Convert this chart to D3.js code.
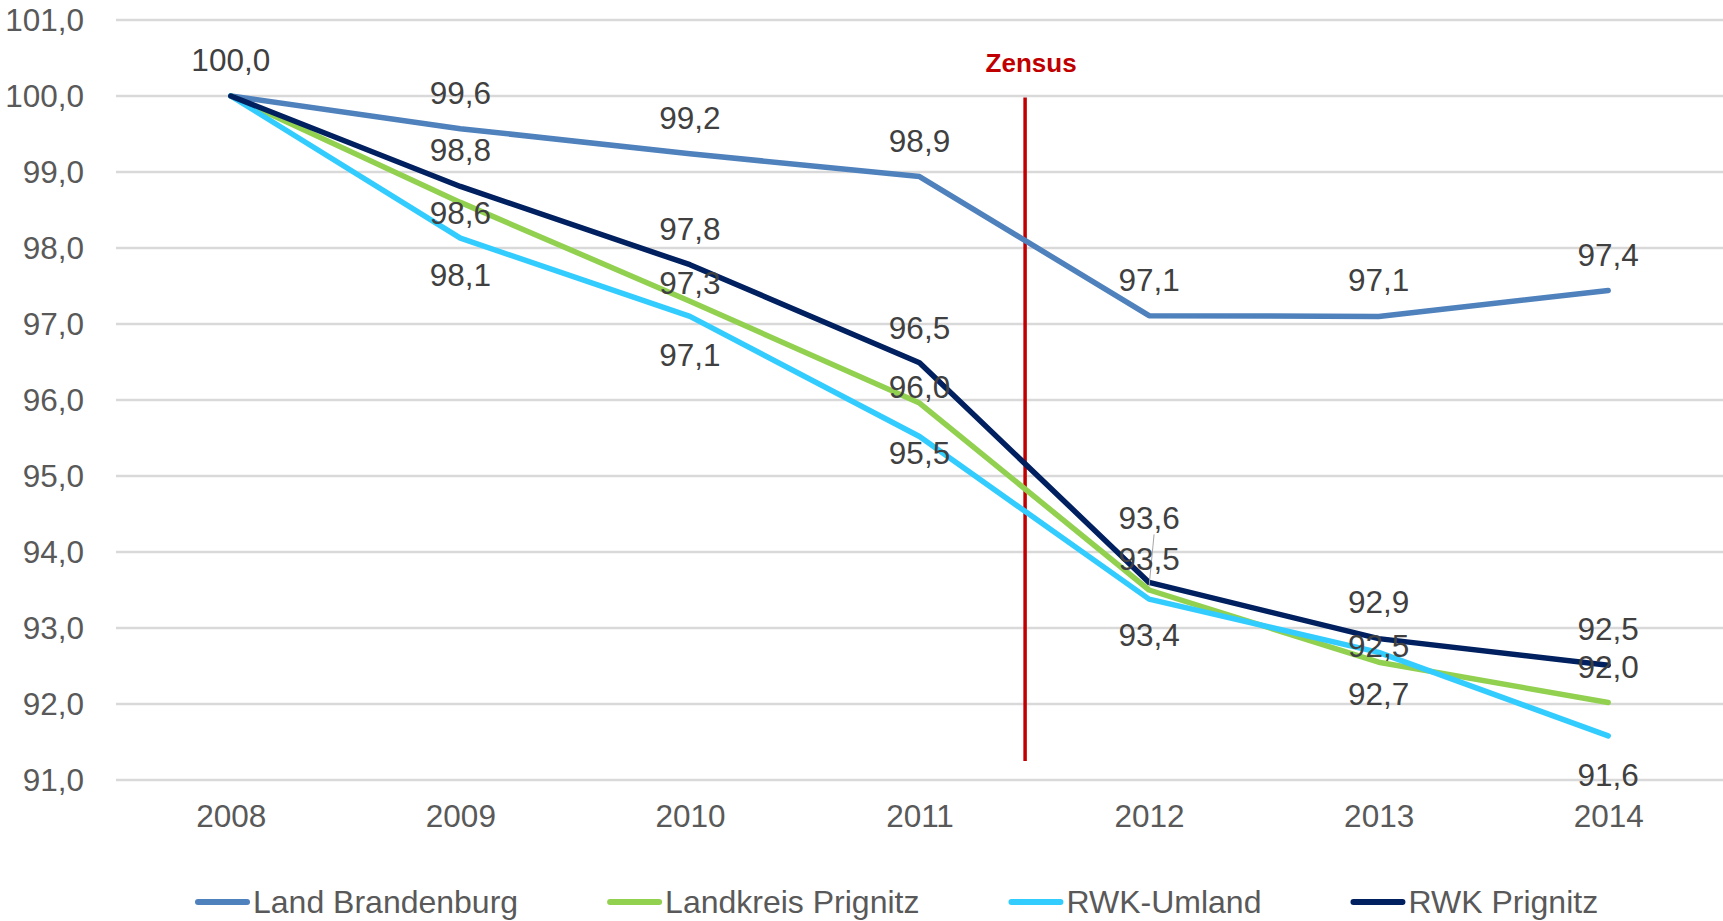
<!DOCTYPE html>
<html>
<head>
<meta charset="utf-8">
<script src="https://cdn.jsdelivr.net/npm/d3@7"></script>
<style>
  body { margin: 0; background: #fff; }
  svg { font-family: "Liberation Sans", Arial, sans-serif; }
</style>
</head>
<body>
<div id="chart"></div>
<script>
// data
const years = ['2008', '2009', '2010', '2011', '2012', '2013', '2014']
const yTicks = [91, 92, 93, 94, 95, 96, 97, 98, 99, 100, 101]

const landBrandenburg = [100.0, 99.57, 99.24, 98.94, 97.11, 97.10, 97.44]
const landkreisPrignitz = [100.0, 98.60, 97.30, 95.96, 93.50, 92.55, 92.02]
const rwkUmland = [100.0, 98.13, 97.10, 95.52, 93.38, 92.68, 91.58]
const rwkPrignitz = [100.0, 98.81, 97.78, 96.49, 93.60, 92.86, 92.51]

// label nudges (px, relative to point), null = no label
const dyLB = [-36, -36, -36, -36, -36, -36, -36]
const dyLP = [null, 11, -18, -16, -31, -16, -36]
const dyRU = [null, 37, 39, 16, 36, 42, 39]
const dyRP = [null, -36, -36, -35, -64, -37, -36]

const series = [
	{name: 'Land Brandenburg', values: landBrandenburg, color: '#4f81bd', dy: dyLB},
	{name: 'Landkreis Prignitz', values: landkreisPrignitz, color: '#92d050', dy: dyLP},
	{name: 'RWK-Umland', values: rwkUmland, color: '#33ccff', dy: dyRU},
	{name: 'RWK Prignitz', values: rwkPrignitz, color: '#002060', dy: dyRP}
]

// Zensus marker between 2011 and 2012
const zensus = {label: 'Zensus', after: '2011', frac: 0.46, top: 99.98, bottom: 91.25}

const width = 1723, height = 921
const plot = {left: 116, right: 1723, top: 20, bottom: 780}

const svg = d3.select('#chart').append('svg')
	.attr('width', width)
	.attr('height', height)

const x = d3.scalePoint().domain(years).range([plot.left, plot.right]).padding(0.5)
const y = d3.scaleLinear().domain([91, 101]).range([plot.bottom, plot.top])
const step = x.step()

const de = d3.formatLocale({decimal: ',', thousands: '.', grouping: [3], currency: ['', ' €']})
const fmt = de.format('.1f')

// gridlines
svg.append('g')
	.selectAll('line')
	.data(yTicks)
	.join('line')
		.attr('x1', plot.left)
		.attr('x2', plot.right)
		.attr('y1', d => y(d))
		.attr('y2', d => y(d))
		.attr('stroke', '#d9d9d9')
		.attr('stroke-width', 2.5)

// y axis labels
const yAxis = svg.append('g')
	.attr('transform', `translate(${plot.left},0)`)
	.call(d3.axisLeft(y).tickValues(yTicks).tickFormat(fmt).tickSize(0).tickPadding(32))
yAxis.select('.domain').remove()
yAxis.selectAll('text')
	.attr('fill', '#595959')
	.style('font-size', '31.5px')
	.style('font-family', '"Liberation Sans", Arial, sans-serif')

// x axis labels
const xAxis = svg.append('g')
	.attr('transform', `translate(0,${plot.bottom})`)
	.call(d3.axisBottom(x).tickSize(0).tickPadding(25))
xAxis.select('.domain').remove()
xAxis.selectAll('text')
	.attr('fill', '#595959')
	.style('font-size', '31.5px')
	.style('font-family', '"Liberation Sans", Arial, sans-serif')

// Zensus line
const zx = x(zensus.after) + zensus.frac * step
svg.append('line')
	.attr('x1', zx).attr('x2', zx)
	.attr('y1', y(zensus.top)).attr('y2', y(zensus.bottom))
	.attr('stroke', '#c00000')
	.attr('stroke-width', 3.5)
svg.append('text')
	.attr('x', zx + 6)
	.attr('y', 63)
	.attr('dy', '0.35em')
	.attr('text-anchor', 'middle')
	.attr('fill', '#c00000')
	.style('font-weight', 'bold')
	.style('font-size', '26px')
	.text(zensus.label)

// lines
const line = d3.line()
	.x((d, i) => x(years[i]))
	.y(d => y(d))

svg.append('g')
	.selectAll('path')
	.data(series)
	.join('path')
		.attr('d', d => line(d.values))
		.attr('fill', 'none')
		.attr('stroke', d => d.color)
		.attr('stroke-width', 5.5)
		.attr('stroke-linejoin', 'round')
		.attr('stroke-linecap', 'round')

// leader line for RWK Prignitz 2012
svg.append('line')
	.attr('x1', x('2012') + 5).attr('y1', y(rwkPrignitz[4]) - 64 + 16)
	.attr('x2', x('2012')).attr('y2', y(rwkPrignitz[4]) + 4)
	.attr('stroke', '#a6a6a6')
	.attr('stroke-width', 1)

// data labels
const labels = []
series.forEach(s => {
	s.values.forEach((v, i) => {
		if (s.dy[i] !== null) labels.push({v, i, dy: s.dy[i]})
	})
})

svg.append('g')
	.selectAll('text')
	.data(labels)
	.join('text')
		.attr('x', d => x(years[d.i]))
		.attr('y', d => y(d.v) + d.dy)
		.attr('dy', '0.35em')
		.attr('text-anchor', 'middle')
		.attr('fill', '#404040')
		.style('font-size', '31.5px')
		.text(d => fmt(d.v))

// legend
const legend = svg.append('g').attr('transform', 'translate(0,902)')
let lx = 195
series.forEach(s => {
	const g = legend.append('g')
	g.append('line')
		.attr('x1', lx + 3).attr('x2', lx + 52)
		.attr('y1', 0).attr('y2', 0)
		.attr('stroke', s.color)
		.attr('stroke-width', 6)
		.attr('stroke-linecap', 'round')
	const t = g.append('text')
		.attr('x', lx + 58)
		.attr('y', 0)
		.attr('dy', '0.35em')
		.attr('fill', '#595959')
		.style('font-size', '32px')
		.text(s.name)
	lx = lx + 58 + t.node().getComputedTextLength() + 89
})
</script>
</body>
</html>
